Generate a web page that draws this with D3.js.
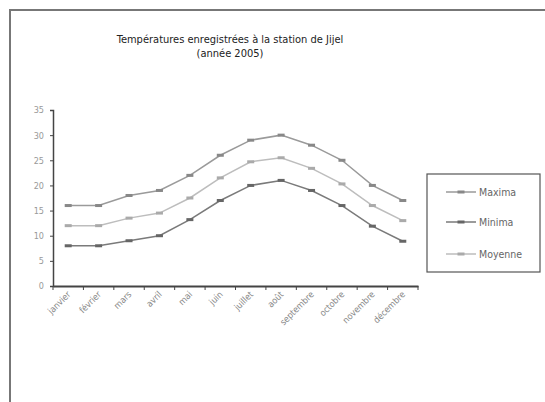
<!DOCTYPE html>
<html><head><meta charset="utf-8">
<script src="https://cdn.jsdelivr.net/npm/d3@7"></script>
<style>body{margin:0;background:#fff}svg{display:block}</style>
</head><body>
<script>
const months = ["janvier","février","mars","avril","mai","juin","juillet","août","septembre","octobre","novembre","décembre"];
const maxima = [16,16,18,19,22,26,29,30,28,25,20,17];
const minima = [8,8,9,10,13.2,17,20,21,19,16,11.9,8.9];
const moyenne = [12,12,13.5,14.5,17.5,21.5,24.7,25.5,23.4,20.3,16,13];
const yTicks = [0,5,10,15,20,25,30,35];
const seriesNames = ["Maxima","Minima","Moyenne"];
const seriesColors = ["#9a9a9a","#7a7a7a","#bdbdbd"];
const markerColors = ["#888","#666","#aaa"];

const W=545,H=402;
const svg=d3.select("body").append("svg").attr("width",W).attr("height",H);
const font='"Liberation Sans Narrow","DejaVu Sans Condensed","Liberation Sans",sans-serif';

svg.append("rect").attr("x",10).attr("y",10).attr("width",W+20).attr("height",H+20)
  .attr("fill","none").attr("stroke","#777").attr("stroke-width",2);

svg.append("text").attr("x",230).attr("y",43).attr("text-anchor","middle")
  .attr("font-family",font).attr("font-size",11).attr("fill","#222")
  .text("Températures enregistrées à la station de Jijel");
svg.append("text").attr("x",230).attr("y",57).attr("text-anchor","middle")
  .attr("font-family",font).attr("font-size",11).attr("fill","#222")
  .text("(année 2005)");

const x=d3.scaleBand().domain(months).range([53,418]);
const y=d3.scaleLinear().domain([0,35]).range([286,110]);

const yAxis=svg.append("g").attr("transform","translate(53,0)")
  .call(d3.axisLeft(y).tickValues(yTicks).tickSize(3).tickPadding(6));
yAxis.select(".domain").attr("stroke","#444").attr("stroke-width",1.5);
yAxis.selectAll(".tick line").attr("stroke","#444");
yAxis.selectAll("text").attr("font-family",font).attr("font-size",9).attr("fill","#999");

const xAxis=svg.append("g").attr("transform","translate(0,286)")
  .call(d3.axisBottom(x).tickSize(0).tickFormat(""));
xAxis.select(".domain").attr("stroke","#444").attr("stroke-width",2);
xAxis.selectAll(".tick").remove();
const bounds=months.map(m=>x(m)).concat([418]);
svg.append("g").selectAll("line").data(bounds).join("line")
  .attr("x1",d=>d).attr("x2",d=>d).attr("y1",286).attr("y2",290)
  .attr("stroke","#444");
svg.append("g").selectAll("text").data(months).join("text")
  .attr("transform",m=>`translate(${x(m)+x.bandwidth()/2+3},295) rotate(-45)`)
  .attr("text-anchor","end").attr("font-family",font).attr("font-size",9)
  .attr("fill","#888").text(d=>d);

const data=[maxima,minima,moyenne];
const line=d3.line().x((d,i)=>x(months[i])+x.bandwidth()/2).y(d=>y(d));
data.forEach((vals,k)=>{
  svg.append("path").datum(vals).attr("d",line).attr("fill","none")
    .attr("stroke",seriesColors[k]).attr("stroke-width",1.5);
  svg.append("g").selectAll("rect").data(vals).join("rect")
    .attr("x",(d,i)=>x(months[i])+x.bandwidth()/2-3.5).attr("y",d=>y(d)-1.5)
    .attr("width",7).attr("height",3).attr("fill",markerColors[k]);
});

svg.append("rect").attr("x",427).attr("y",174).attr("width",113).attr("height",98)
  .attr("fill","#fff").attr("stroke","#555").attr("stroke-width",1.2);
const ly=[192,222,254];
seriesNames.forEach((n,k)=>{
  svg.append("line").attr("x1",446).attr("x2",476).attr("y1",ly[k]).attr("y2",ly[k])
    .attr("stroke",seriesColors[k]).attr("stroke-width",1.5);
  svg.append("rect").attr("x",457.5).attr("y",ly[k]-1.5).attr("width",7).attr("height",3)
    .attr("fill",markerColors[k]);
  svg.append("text").attr("x",479).attr("y",ly[k]+4).attr("font-family",font)
    .attr("font-size",10.5).attr("fill","#666").text(n);
});
</script>
</body></html>
